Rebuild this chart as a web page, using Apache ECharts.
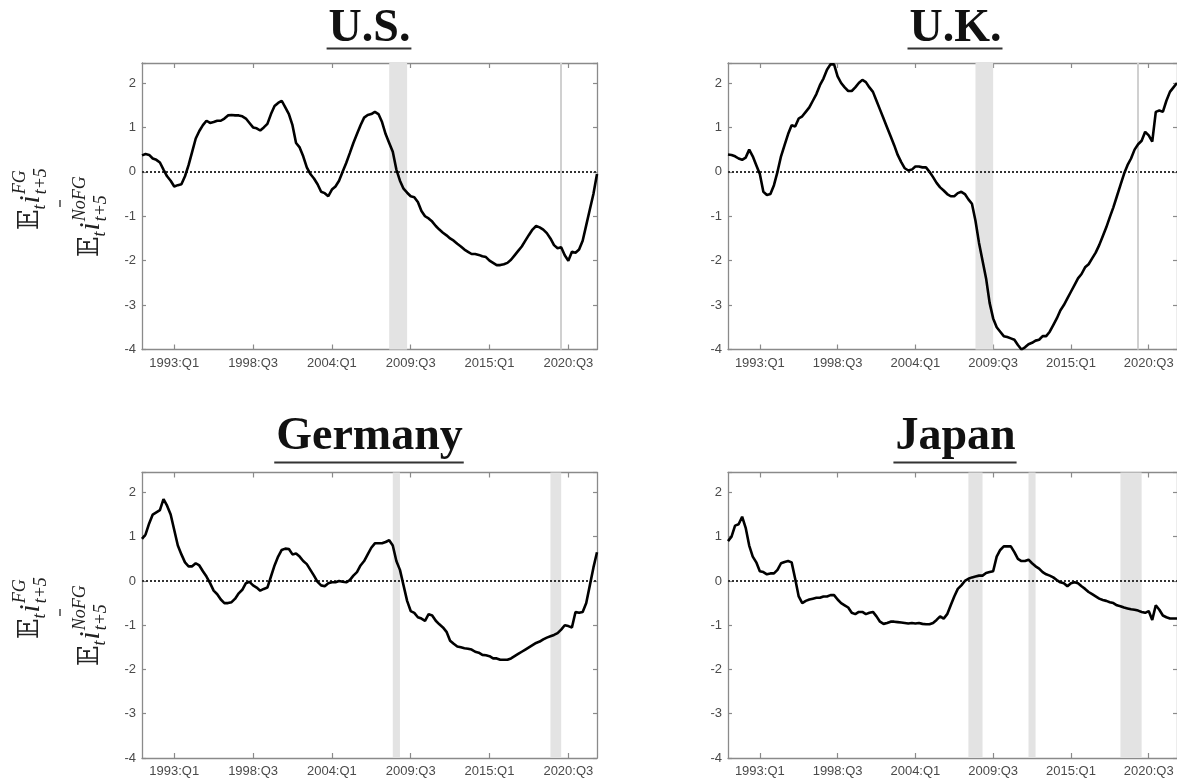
<!DOCTYPE html>
<html><head><meta charset="utf-8">
<script src="https://cdn.jsdelivr.net/npm/echarts@6/dist/echarts.min.js"></script>
<style>html,body{margin:0;padding:0;background:#fff}#c{width:1177px;height:778px}</style>
</head><body><div id="c"></div>
<script>
// ---------- data ----------
const firstQuarter = [1990, 4];
const quarterCount = 128; // 1990:Q4 .. 2022:Q3
const tickLabels = ['1993:Q1','1998:Q3','2004:Q1','2009:Q3','2015:Q1','2020:Q3'];
const panelTitles = ['U.S.', 'U.K.', 'Germany', 'Japan'];

const usValues = [0.37,0.40,0.38,0.30,0.27,0.21,0.05,-0.10,-0.20,-0.33,
-0.30,-0.28,-0.10,0.15,0.45,0.75,0.92,1.05,1.15,1.10,
1.12,1.15,1.15,1.20,1.27,1.28,1.27,1.27,1.25,1.20,
1.10,1.00,0.98,0.93,1.00,1.08,1.30,1.48,1.55,1.60,
1.45,1.30,1.05,0.65,0.55,0.35,0.10,-0.05,-0.15,-0.28,
-0.45,-0.48,-0.55,-0.40,-0.33,-0.20,0.00,0.20,0.42,0.65,
0.85,1.05,1.22,1.28,1.30,1.35,1.30,1.12,0.85,0.65,
0.45,0.05,-0.20,-0.38,-0.47,-0.55,-0.57,-0.68,-0.88,-1.00,
-1.05,-1.12,-1.22,-1.30,-1.37,-1.43,-1.50,-1.55,-1.62,-1.68,
-1.75,-1.80,-1.85,-1.85,-1.87,-1.90,-1.92,-2.00,-2.05,-2.10,
-2.10,-2.08,-2.05,-1.98,-1.88,-1.78,-1.68,-1.55,-1.42,-1.30,
-1.22,-1.25,-1.30,-1.38,-1.50,-1.65,-1.72,-1.70,-1.88,-2.00,
-1.80,-1.82,-1.75,-1.55,-1.20,-0.85,-0.50,-0.05];

const ukValues = [0.39,0.38,0.35,0.30,0.27,0.32,0.50,0.35,0.15,-0.05,
-0.45,-0.52,-0.50,-0.30,0.00,0.35,0.60,0.85,1.05,1.02,
1.20,1.25,1.35,1.45,1.60,1.75,1.95,2.10,2.30,2.42,
2.42,2.15,2.00,1.90,1.82,1.82,1.90,2.00,2.07,2.02,
1.90,1.80,1.60,1.40,1.20,1.00,0.80,0.60,0.38,0.22,
0.08,0.03,0.05,0.12,0.12,0.10,0.10,0.00,-0.12,-0.25,
-0.35,-0.42,-0.50,-0.55,-0.55,-0.48,-0.45,-0.50,-0.62,-0.72,
-1.10,-1.60,-2.00,-2.40,-2.95,-3.30,-3.50,-3.60,-3.70,-3.72,
-3.75,-3.78,-3.90,-4.00,-3.95,-3.88,-3.85,-3.80,-3.78,-3.70,
-3.70,-3.60,-3.45,-3.30,-3.12,-3.00,-2.85,-2.70,-2.55,-2.40,
-2.30,-2.15,-2.08,-1.95,-1.82,-1.65,-1.45,-1.25,-1.02,-0.80,
-0.55,-0.30,-0.05,0.15,0.30,0.50,0.62,0.70,0.90,0.82,
0.68,1.35,1.38,1.35,1.60,1.80,1.90,2.00];

const germanyValues = [0.95,1.05,1.30,1.50,1.55,1.60,1.85,1.70,1.50,1.15,
0.80,0.60,0.42,0.33,0.33,0.40,0.35,0.22,0.10,-0.05,
-0.22,-0.30,-0.42,-0.50,-0.50,-0.48,-0.40,-0.28,-0.20,-0.05,
-0.02,-0.10,-0.15,-0.22,-0.18,-0.15,0.10,0.35,0.55,0.70,
0.73,0.72,0.60,0.62,0.55,0.45,0.38,0.25,0.12,-0.02,
-0.10,-0.12,-0.05,-0.03,-0.03,0.00,-0.02,-0.03,0.02,0.12,
0.20,0.35,0.45,0.60,0.75,0.85,0.85,0.85,0.88,0.92,
0.80,0.45,0.25,-0.10,-0.45,-0.68,-0.72,-0.82,-0.85,-0.90,
-0.75,-0.78,-0.90,-0.98,-1.05,-1.15,-1.35,-1.42,-1.48,-1.50,
-1.52,-1.53,-1.55,-1.60,-1.62,-1.67,-1.68,-1.70,-1.75,-1.75,
-1.78,-1.78,-1.78,-1.75,-1.70,-1.65,-1.60,-1.55,-1.50,-1.45,
-1.40,-1.37,-1.32,-1.28,-1.25,-1.22,-1.18,-1.10,-1.00,-1.02,
-1.05,-0.70,-0.72,-0.70,-0.50,-0.10,0.30,0.65];

const japanValues = [0.90,1.00,1.25,1.28,1.45,1.20,0.80,0.55,0.42,0.22,
0.20,0.15,0.17,0.17,0.25,0.40,0.43,0.45,0.42,0.05,
-0.35,-0.50,-0.45,-0.42,-0.40,-0.38,-0.38,-0.35,-0.35,-0.32,
-0.32,-0.42,-0.50,-0.55,-0.60,-0.72,-0.75,-0.70,-0.70,-0.75,
-0.72,-0.70,-0.80,-0.92,-0.97,-0.95,-0.92,-0.92,-0.93,-0.94,
-0.95,-0.96,-0.95,-0.96,-0.95,-0.97,-0.98,-0.98,-0.95,-0.88,
-0.80,-0.85,-0.75,-0.55,-0.35,-0.18,-0.10,0.00,0.05,0.08,
0.10,0.12,0.12,0.18,0.20,0.22,0.55,0.70,0.78,0.78,
0.78,0.65,0.50,0.45,0.45,0.48,0.40,0.33,0.28,0.20,
0.15,0.12,0.08,0.02,-0.03,-0.05,-0.12,-0.05,-0.03,-0.05,
-0.12,-0.18,-0.25,-0.30,-0.35,-0.40,-0.43,-0.45,-0.48,-0.50,
-0.55,-0.57,-0.60,-0.62,-0.64,-0.65,-0.67,-0.70,-0.72,-0.68,
-0.88,-0.55,-0.65,-0.78,-0.82,-0.85,-0.85,-0.85];

// recession bands [start, end] and single-quarter recession lines
const usBands = [['2008:Q1','2009:Q2']];
const usLines = ['2020:Q1'];
const ukBands = [['2008:Q2','2009:Q3']];
const ukLines = ['2019:Q4'];
const germanyBands = [['2008:Q2','2008:Q4'], ['2019:Q2','2020:Q1']];
const germanyLines = [];
const japanBands = [['2007:Q4','2008:Q4'], ['2012:Q1','2012:Q3'], ['2018:Q3','2020:Q1']];
const japanLines = [];

const yMin = -4, yMax = 2.45, yStep = 1;

// ---------- build ----------
const quarters = [];
for (let k = 0; k < quarterCount; k++) {
  const q0 = firstQuarter[1] - 1 + k;
  quarters.push((firstQuarter[0] + Math.floor(q0 / 4)) + ':Q' + (q0 % 4 + 1));
}
const tickIdx = tickLabels.map(l => quarters.indexOf(l));
const showTick = (i) => tickIdx.indexOf(i) >= 0;

const panels = [
  {title: panelTitles[0], vals: usValues, bands: usBands, lines: usLines, left: 142, top: 63, height: 286.5},
  {title: panelTitles[1], vals: ukValues, bands: ukBands, lines: ukLines, left: 728, top: 63, height: 286.5},
  {title: panelTitles[2], vals: germanyValues, bands: germanyBands, lines: germanyLines, left: 142, top: 472.5, height: 285.5},
  {title: panelTitles[3], vals: japanValues, bands: japanBands, lines: japanLines, left: 728, top: 472.5, height: 285.5}
];
const plotW = 455;
const axisCol = '#8a8a8a';
const labCol = '#4a4a4a';
const labFont = 'Liberation Sans';

const grid = [], xAxis = [], yAxis = [], series = [], graphics = [];
const mctx = document.createElement('canvas').getContext('2d');
function textW(font, t) { mctx.font = font; return mctx.measureText(t).width; }

panels.forEach((p, gi) => {
  grid.push({left: p.left, top: p.top, width: plotW, height: p.height, containLabel: false});
  const xa = {
    type: 'category', gridIndex: gi, data: quarters, boundaryGap: false,
    axisLine: {show: true, onZero: false, lineStyle: {color: axisCol, width: 1.3}},
    axisTick: {show: true, inside: true, length: 5, interval: showTick, lineStyle: {color: axisCol, width: 1.2}},
    splitLine: {show: false}
  };
  xAxis.push(Object.assign({}, xa, {position: 'bottom',
    axisLabel: {show: true, interval: showTick, color: labCol, fontSize: 13, fontFamily: labFont, margin: 7}}));
  xAxis.push(Object.assign({}, xa, {position: 'top', axisLabel: {show: false}}));
  const ya = {
    type: 'value', gridIndex: gi, min: yMin, max: yMax, interval: yStep,
    axisLine: {show: true, onZero: false, lineStyle: {color: axisCol, width: 1.3}},
    axisTick: {show: true, inside: true, length: 4, lineStyle: {color: axisCol, width: 1.2}},
    splitLine: {show: false}
  };
  yAxis.push(Object.assign({}, ya, {position: 'left',
    axisLabel: {show: true, color: labCol, fontSize: 13, fontFamily: labFont, margin: 6,
      formatter: v => (Math.abs(v - Math.round(v)) < 1e-9 ? String(Math.round(v)) : '')}}));
  yAxis.push(Object.assign({}, ya, {position: 'right', axisLabel: {show: false}}));

  series.push({
    type: 'line', xAxisIndex: 2 * gi, yAxisIndex: 2 * gi, data: p.vals,
    showSymbol: false, smooth: false, silent: true,
    lineStyle: {color: '#000', width: 2.6}, z: 5,
    markArea: {silent: true, itemStyle: {color: '#e3e3e3'},
      data: p.bands.map(b => [{xAxis: b[0]}, {xAxis: b[1]}])},
    markLine: {silent: true, symbol: 'none', label: {show: false},
      data: [{yAxis: 0, lineStyle: {type: 'dotted', color: '#333', width: 2}}]
        .concat(p.lines.map(q => ({xAxis: q, lineStyle: {type: 'solid', color: '#d0d0d0', width: 2}})))}
  });

  // title with underline
  const cx = p.left + plotW / 2;
  const row = gi < 2 ? 0 : 1;
  const titleFont = 'bold 46px "Liberation Serif"';
  const tw = textW(titleFont, p.title);
  const baseY = row === 0 ? 29 : 437;
  const ulY = row === 0 ? 48.5 : 462.5;
  graphics.push({type: 'text', x: cx, y: baseY, z: 10,
    style: {text: p.title, font: titleFont, fill: '#111', align: 'center', verticalAlign: 'middle',
      textAlign: 'center', textVerticalAlign: 'middle'}});
  graphics.push({type: 'line', z: 10, shape: {x1: cx - tw / 2 - 2, y1: ulY, x2: cx + tw / 2 + 1, y2: ulY},
    style: {stroke: '#333', lineWidth: 2}});
});

// rotated y-axis math label
function fragRow(x0, baseY, frags) {
  const out = [];
  let x = x0;
  frags.forEach(f => {
    if (f.stack) {
      let wmax = 0;
      f.stack.forEach(s => {
        const font = (s.italic ? 'italic ' : '') + s.size + 'px ' + s.family;
        out.push({type: 'text', x: x, y: baseY + s.dy, style: {text: s.t, font: font, fill: '#222',
          align: 'left', verticalAlign: 'middle', textAlign: 'left', textVerticalAlign: 'middle'}});
        wmax = Math.max(wmax, textW(font, s.t));
      });
      x += wmax;
    } else {
      const font = (f.italic ? 'italic ' : '') + f.size + 'px ' + f.family;
      out.push({type: 'text', x: x, y: baseY + f.dy, style: {text: f.t, font: font, fill: '#222',
        align: 'left', verticalAlign: 'middle', textAlign: 'left', textVerticalAlign: 'middle'}});
      x += textW(font, f.t) + (f.after || 0);
    }
  });
  return out;
}
const serif = '"Liberation Serif"';
const bb = '"DejaVu Serif", "DejaVu Sans"';
function yLabel(cy) {
  const line1 = fragRow(-24, -30, [
    {t: '\u{1D53C}', size: 27, family: bb, dy: 0},
    {t: 't', size: 18, family: serif, italic: true, dy: 9, after: 1},
    {t: 'i', size: 29, family: serif, italic: true, dy: 0, after: 1},
    {stack: [{t: 'FG', size: 18, family: serif, italic: true, dy: -11},
             {t: 't+5', size: 18, family: serif, italic: true, dy: 10}]}
  ]);
  const line3 = fragRow(-51, 30, [
    {t: '\u{1D53C}', size: 27, family: bb, dy: 0},
    {t: 't', size: 18, family: serif, italic: true, dy: 9, after: 1},
    {t: 'i', size: 29, family: serif, italic: true, dy: 0, after: 1},
    {stack: [{t: 'NoFG', size: 18, family: serif, italic: true, dy: -11},
             {t: 't+5', size: 18, family: serif, italic: true, dy: 10}]}
  ]);
  const dash = {type: 'line', shape: {x1: -1, y1: -1, x2: 6, y2: -1}, style: {stroke: '#444', lineWidth: 1.5}};
  return {type: 'group', x: 61, y: cy, rotation: Math.PI / 2, z: 10, children: line1.concat(line3, [dash])};
}
graphics.push(yLabel(206));
graphics.push(yLabel(615));

const chart = echarts.init(document.getElementById('c'), null, {renderer: 'canvas'});
chart.setOption({
  animation: false,
  backgroundColor: '#fff',
  grid, xAxis, yAxis, series,
  graphic: {elements: graphics}
});
</script>
</body></html>
